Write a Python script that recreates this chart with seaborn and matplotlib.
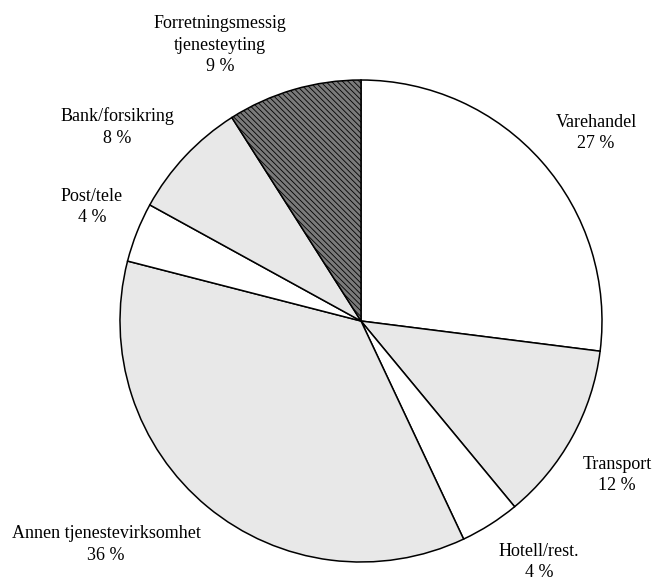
import matplotlib.pyplot as plt
import seaborn as sns

categories = ["Varehandel", "Transport", "Hotell/rest.", "Annen tjenestevirksomhet",
              "Post/tele", "Bank/forsikring", "Forretningsmessig\ntjenesteyting"]
shares = [27, 12, 4, 36, 4, 8, 9]
fills = ["white", "#e8e8e8", "white", "#e8e8e8", "white", "#e8e8e8", "#7a7a7a"]
hatches = [None, None, None, None, None, None, "\\\\\\\\\\\\"]

# label centres in pie radius units
label_pos = [(0.975, 0.780), (1.062, -0.639), (0.739, -1.000), (-1.058, -0.929),
             (-1.116, 0.473), (-1.012, 0.805), (-0.585, 1.145)]

sns.set_theme(style="white")
plt.rcParams["font.family"] = ["Liberation Serif", "DejaVu Serif"]
plt.rcParams["hatch.linewidth"] = 0.6

fig = plt.figure(figsize=(6.56, 5.81), dpi=100)
ax = fig.add_axes([0.1829, 0.0327, 0.7348, 0.8296])
wedges, _ = ax.pie(shares, startangle=90, counterclock=False, colors=fills,
                   wedgeprops=dict(edgecolor="black", linewidth=1.1))
for w, h in zip(wedges, hatches):
    if h:
        w.set_hatch(h)

for cat, val, (x, y) in zip(categories, shares, label_pos):
    ax.text(x, y, f"{cat}\n{val} %", ha="center", va="center", fontsize=13,
            linespacing=1.38, color="black")

ax.set_xlim(-1, 1)
ax.set_ylim(-1, 1)
ax.set_aspect("equal")
ax.axis("off")
fig.savefig("out.png", dpi=100)
